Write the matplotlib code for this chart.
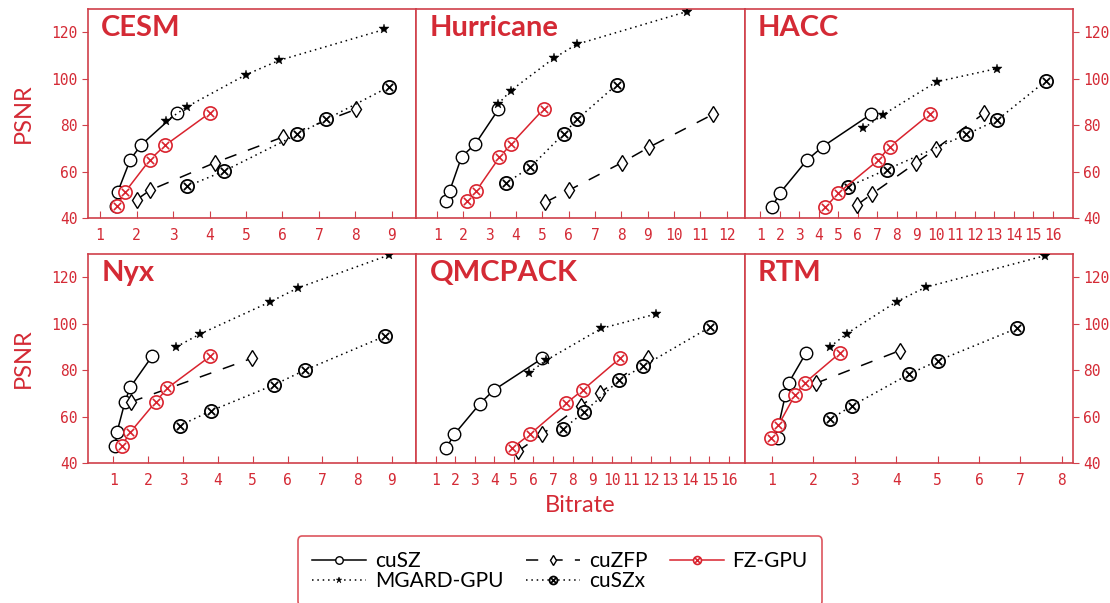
import matplotlib
matplotlib.use("Agg")
import matplotlib.pyplot as plt
from matplotlib.path import Path

RED = "#d42a35"
EDGE = "#d0404a"

panels = ["CESM", "Hurricane", "HACC", "Nyx", "QMCPACK", "RTM"]

# x limits and tick ranges per panel
xlims = {"CESM": (0.67, 9.67), "Hurricane": (0.21, 12.69), "HACC": (0.19, 17.05),
         "Nyx": (0.27, 9.7), "QMCPACK": (0.02, 16.8), "RTM": (0.34, 8.27)}
xticks = {"CESM": range(1, 10), "Hurricane": range(1, 13), "HACC": range(1, 17),
          "Nyx": range(1, 10), "QMCPACK": range(1, 17), "RTM": range(1, 9)}

# (bitrate, psnr) per compressor per dataset
cusz = {
    "CESM": ([1.44, 1.48, 1.83, 2.12, 3.11], [45.0, 51.1, 65.2, 71.4, 85.4]),
    "Hurricane": ([1.34, 1.47, 1.93, 2.45, 3.33], [47.2, 51.5, 66.4, 71.9, 86.8]),
    "HACC": ([1.58, 2.0, 3.37, 4.20, 6.67], [44.6, 50.8, 64.8, 70.8, 84.7]),
    "Nyx": ([1.05, 1.10, 1.33, 1.48, 2.11], [47.5, 53.2, 66.3, 72.6, 86.0]),
    "QMCPACK": ([1.55, 1.96, 3.27, 3.99, 6.46], [46.5, 52.4, 65.6, 71.5, 85.1]),
    "RTM": ([1.14, 1.16, 1.32, 1.40, 1.82], [50.8, 56.2, 69.2, 74.5, 87.4]),
}
fzgpu = {
    "CESM": ([1.46, 1.68, 2.37, 2.79, 4.02], [45.0, 51.1, 65.2, 71.4, 85.4]),
    "Hurricane": ([2.13, 2.49, 3.37, 3.80, 5.06], [47.2, 51.8, 66.2, 71.7, 87.1]),
    "HACC": ([4.33, 5.0, 7.03, 7.65, 9.68], [44.6, 50.8, 64.8, 70.8, 84.7]),
    "Nyx": ([1.24, 1.48, 2.21, 2.55, 3.78], [47.5, 53.2, 66.3, 72.3, 86.0]),
    "QMCPACK": ([4.92, 5.82, 7.67, 8.53, 10.42], [46.5, 52.4, 65.7, 71.5, 85.1]),
    "RTM": ([0.98, 1.15, 1.55, 1.79, 2.64], [50.8, 56.2, 69.2, 74.5, 87.4]),
}
cuzfp = {
    "CESM": ([2.0, 2.37, 4.14, 6.01, 8.01], [47.9, 52.0, 63.8, 74.9, 86.8]),
    "Hurricane": ([5.11, 6.01, 8.01, 9.07, 11.49], [46.8, 52.0, 63.8, 70.6, 84.7]),
    "HACC": ([5.98, 6.74, 8.99, 9.99, 12.48], [45.8, 50.5, 63.8, 69.8, 85.1]),
    "Nyx": ([1.50, 4.99], [66.3, 85.2]),
    "QMCPACK": ([5.19, 6.44, 8.41, 9.40, 11.86], [45.0, 52.4, 64.7, 70.2, 85.4]),
    "RTM": ([2.05, 4.08], [74.3, 88.4]),
}
cuszx = {
    "CESM": ([3.39, 4.39, 6.40, 7.20, 8.93], [53.7, 60.2, 76.0, 82.5, 96.6]),
    "Hurricane": ([3.62, 4.54, 5.81, 6.32, 7.83], [55.1, 61.9, 76.3, 82.5, 97.5]),
    "HACC": ([5.47, 7.48, 11.57, 13.15, 15.66], [53.4, 60.9, 76.0, 82.2, 99.1]),
    "Nyx": ([2.90, 3.80, 5.60, 6.51, 8.79], [56.1, 62.5, 73.6, 80.1, 94.6]),
    "QMCPACK": ([7.50, 8.61, 10.37, 11.59, 15.04], [54.6, 62.1, 75.6, 81.7, 98.6]),
    "RTM": ([2.40, 2.92, 4.32, 5.01, 6.91], [58.8, 64.6, 78.4, 84.1, 98.0]),
}
mgard = {
    "CESM": ([2.81, 3.39, 5.01, 5.91, 8.79], [81.8, 88.0, 101.8, 107.9, 121.2]),
    "Hurricane": ([3.31, 3.80, 5.43, 6.30, 10.49], [89.0, 94.9, 108.8, 114.8, 128.9]),
    "HACC": ([6.29, 7.29, 10.05, 13.15], [78.6, 84.5, 98.7, 104.4]),
    "Nyx": ([2.80, 3.49, 5.50, 6.30, 8.90], [90.0, 95.6, 109.4, 115.4, 129.5]),
    "QMCPACK": ([5.77, 6.64, 9.48, 12.27], [78.8, 84.2, 98.0, 104.2]),
    "RTM": ([2.40, 2.80, 4.01, 4.71, 7.59], [90.0, 95.7, 109.5, 115.7, 129.3]),
}

# circle with a cross inside
_circ = Path.unit_circle()
_a = 0.55
_x1 = Path([(-_a, -_a), (_a, _a)], [Path.MOVETO, Path.LINETO])
_x2 = Path([(-_a, _a), (_a, -_a)], [Path.MOVETO, Path.LINETO])
OTIMES = Path.make_compound_path(_circ, _x1, _x2)

styles = [
    ("cuSZ", cusz, dict(color="black", ls="-", lw=1.1, marker="o", ms=9, mfc="white", mew=1.0)),
    ("MGARD-GPU", mgard, dict(color="black", ls=(0, (1, 2.5)), lw=1.1, marker="*", ms=7.5, mfc="black", mew=0.3)),
    ("cuZFP", cuzfp, dict(color="black", ls=(0, (8, 8)), lw=1.1, marker="d", ms=8, mfc="white", mew=1.0)),
    ("cuSZx", cuszx, dict(color="black", ls=(0, (1, 2.5)), lw=1.1, marker=OTIMES, ms=9.5, mfc="white", mew=1.3)),
    ("FZ-GPU", fzgpu, dict(color="#d9232e", ls="-", lw=1.1, marker=OTIMES, ms=9.5, mfc="white", mew=1.2)),
]

fig, axes = plt.subplots(2, 3, figsize=(11.1, 6.03), dpi=100)
fig.subplots_adjust(left=0.0793, right=0.9667, top=0.985, bottom=0.232, wspace=0.0, hspace=0.172)

handles = []
for i, name in enumerate(panels):
    ax = axes[i // 3][i % 3]
    for label, data, kw in styles:
        xs, ys = data[name]
        h, = ax.plot(xs, ys, label=label, zorder=3, **kw)
        if i == 0:
            handles.append(h)
    ax.set_xlim(*xlims[name])
    ax.set_ylim(40, 130)
    ax.set_xticks(list(xticks[name]))
    ax.set_yticks([40, 60, 80, 100, 120])
    for sp in ax.spines.values():
        sp.set_color(EDGE)
        sp.set_linewidth(1.2)
    ax.tick_params(axis="x", direction="in", length=5, color=EDGE, labelcolor=RED,
                   labelsize=10.5, pad=7)
    col = i % 3
    if col == 0:
        ax.tick_params(axis="y", direction="out", length=4, color=EDGE, labelcolor=RED,
                       labelsize=10.5, left=True, right=False, labelleft=True)
    elif col == 2:
        ax.yaxis.tick_right()
        ax.tick_params(axis="y", direction="out", length=4, color=EDGE, labelcolor=RED,
                       labelsize=10.5, left=False, right=True, labelright=True, labelleft=False)
    else:
        ax.tick_params(axis="y", left=False, right=False, labelleft=False)
    for t in ax.get_xticklabels() + ax.get_yticklabels():
        t.set_family("DejaVu Sans Mono")
    ax.text(0.04, 0.97, name, transform=ax.transAxes, ha="left", va="top",
            fontsize=21, fontweight="bold", color=RED, family="Lato")

for yc in [113, 358]:
    fig.text(23 / 1110, 1 - yc / 603, "PSNR", rotation=90, ha="center", va="center",
             fontsize=17, color=RED, family="Lato")
fig.text(580 / 1110, 1 - 505 / 603, "Bitrate", ha="center", va="center",
         fontsize=17, color=RED, family="Lato")

leg = fig.legend(handles=handles, labels=[h.get_label() for h in handles], ncol=3,
                 loc="upper center", bbox_to_anchor=(560 / 1110, 1 - 526 / 603),
                 prop={"family": "Lato", "size": 15}, frameon=True,
                 fancybox=True, edgecolor=RED, borderpad=0.7, handlelength=2.6,
                 columnspacing=1.1, labelspacing=0.0, handletextpad=0.4, markerscale=0.6)
leg.get_frame().set_linewidth(1.2)

fig.savefig("out.png", dpi=100)
